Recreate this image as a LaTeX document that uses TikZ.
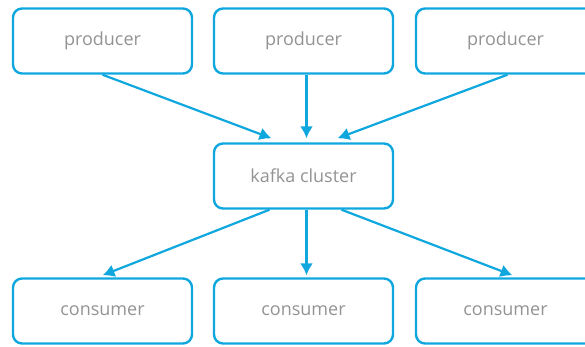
\documentclass[tikz,border=0pt]{standalone}
\usepackage{fontspec}
\setmainfont{Open Sans}
\usepackage{xcolor}
\usetikzlibrary{calc, arrows.meta}
\definecolor{kblue}{HTML}{0FA7DE}
\definecolor{kgrey}{HTML}{939393}

\begin{document}
\begin{tikzpicture}[x=1pt, y=-1pt,
    box/.style={draw=kblue, line width=2.4pt, rounded corners=9pt, minimum width=179pt, minimum height=65pt, text=kgrey, font=\fontsize{18}{21}\selectfont},
    link/.style={draw=kblue, line width=2.2pt, -{Latex[length=12pt, width=13pt]}}]
    \useasboundingbox (0, 0) rectangle (585, 346);
    \clip (0, 0) rectangle (585, 346);

    \node[box] (p1) at (102.5, 41) {producer};
    \node[box] (p2) at (303.5, 41) {producer};
    \node[box] (p3) at (505.5, 41) {producer};
    \node[box] (k) at (303.5, 176) {kafka cluster};
    \node[box] (c1) at (102.5, 311) {consumer};
    \node[box] (c2) at (303.5, 311) {consumer};
    \node[box] (c3) at (505.5, 311) {consumer};

    \draw[link] (p1.south) -- ($(k.north) + (-32, -4)$);
    \draw[link] ($(p2.south) + (3, 0)$) -- ($(k.north) + (3, -4)$);
    \draw[link] ($(p3.south) + (2, 0)$) -- ($(k.north) + (34, -4)$);
    \draw[link] ($(k.south) + (-34, 0)$) -- ($(c1.north) + (0, -2)$);
    \draw[link] ($(k.south) + (3, 0)$) -- ($(c2.north) + (3, -2)$);
    \draw[link] ($(k.south) + (38, 0)$) -- ($(c3.north) + (7, -2)$);
\end{tikzpicture}
\end{document}
